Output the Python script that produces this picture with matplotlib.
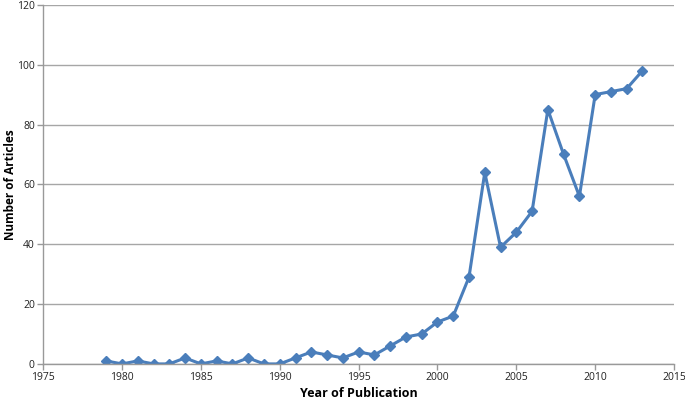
import matplotlib
matplotlib.use("Agg")
import matplotlib.pyplot as plt

years = [1979, 1980, 1981, 1982, 1983, 1984, 1985, 1986, 1987, 1988,
         1989, 1990, 1991, 1992, 1993, 1994, 1995, 1996, 1997, 1998,
         1999, 2000, 2001, 2002, 2003, 2004, 2005, 2006, 2007, 2008,
         2009, 2010, 2011, 2012, 2013]
articles = [1, 0, 1, 0, 0, 2, 0, 1, 0, 2,
            0, 0, 2, 4, 3, 2, 4, 3, 6, 9,
            10, 14, 16, 29, 64, 39, 44, 51, 85, 70,
            56, 90, 91, 92, 98]
x_ticks = [1975, 1980, 1985, 1990, 1995, 2000, 2005, 2010, 2015]
y_ticks = [0, 20, 40, 60, 80, 100, 120]

plt.rcParams['font.family'] = ['Open Sans', 'DejaVu Sans']

fig = plt.figure(figsize=(6.85, 4.03), dpi=100)
ax = fig.add_axes([0.063, 0.097, 0.921, 0.891])

ax.plot(years, articles, color='#4a7ebb', linewidth=2.2, marker='D',
        markersize=5, markerfacecolor='#4a7ebb', markeredgecolor='#4a7ebb')

ax.set_xlim(1975, 2015)
ax.set_ylim(0, 120)
ax.set_xticks(x_ticks)
ax.set_yticks(y_ticks)
ax.tick_params(labelsize=7.5, colors='#222222', length=4, width=1, pad=2)
ax.tick_params(axis='both', color='#999999')
ax.yaxis.grid(True, color='#a6a6a6', linewidth=1)
ax.set_axisbelow(True)

for side in ['top', 'right']:
    ax.spines[side].set_visible(False)
for side in ['left', 'bottom']:
    ax.spines[side].set_color('#999999')
    ax.spines[side].set_linewidth(1)

ax.set_xlabel('Year of Publication', fontsize=9, fontweight='bold', labelpad=3)
ax.set_ylabel('Number of Articles', fontsize=8.5, fontweight='bold')
ax.yaxis.set_label_coords(-0.041, 0.5)

fig.savefig('out.png', dpi=100)
